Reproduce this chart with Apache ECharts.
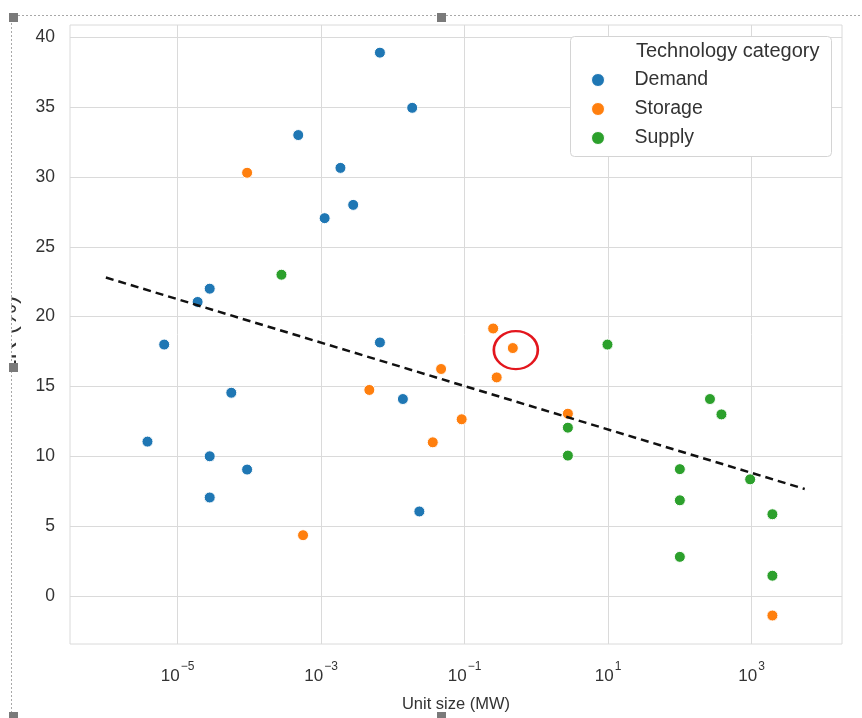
<!DOCTYPE html>
<html>
<head>
<meta charset="utf-8">
<script src="https://cdn.jsdelivr.net/npm/echarts@6/dist/echarts.min.js"></script>
<style>html,body{margin:0;padding:0;background:#fff}#c{width:862px;height:718px}</style>
</head>
<body>
<div id="c"></div>
<script>
// ---- data (unit size in MW, learning rate in %) ----
const seriesNames = ['Demand', 'Storage', 'Supply'];
const demandX = [0.0066, 0.0186, 0.00048, 0.00186, 0.0028, 0.00112, 0.000028, 0.000019, 0.0000065, 0.0066, 0.000056, 0.0138, 0.0000038, 0.000028, 0.000093, 0.000028, 0.0234];
const demandY = [38.9, 34.95, 33.0, 30.65, 28.0, 27.05, 22.0, 21.05, 18.0, 18.15, 14.55, 14.1, 11.05, 10.0, 9.05, 7.05, 6.05];
const storageX = [0.000093, 0.25, 0.47, 0.047, 0.28, 0.0047, 0.091, 0.036, 2.75, 0.00056, 1950];
const storageY = [30.3, 19.15, 17.75, 16.25, 15.65, 14.75, 12.65, 11.0, 13.05, 4.35, -1.4];
const supplyX = [0.00028, 9.8, 263, 380, 2.75, 2.75, 100, 100, 100, 955, 1950, 1950];
const supplyY = [23.0, 18.0, 14.1, 13.0, 12.05, 10.05, 9.08, 6.85, 2.8, 8.35, 5.85, 1.45];
const fitX = [1e-6, 5500];
const fitY = [22.8, 7.66];
const highlightIndex = 2; // storage point circled in red
const xTickValues = [1e-5, 1e-3, 1e-1, 1e1, 1e3];
const yTickValues = [0, 5, 10, 15, 20, 25, 30, 35, 40];

const FONT = '"Liberation Sans", Arial, sans-serif';
const TXT = '#333333';
const GRID = '#dadada';
const colors = ['#1f77b4', '#ff7f0e', '#2ca02c'];

function pairs(xs, ys) { return xs.map((x, i) => [x, ys[i]]); }

const chart = echarts.init(document.getElementById('c'), null, {renderer: 'canvas'});

function scatter(name, xs, ys, color, extra) {
  return Object.assign({
    name: name, type: 'scatter', data: pairs(xs, ys),
    symbol: 'circle', symbolSize: 11,
    itemStyle: {color: color, borderColor: '#ffffff', borderWidth: 1, opacity: 1},
    emphasis: {disabled: true}, z: 3
  }, extra || {});
}

function sq(x, y) {
  return {type: 'rect', shape: {x: x, y: y, width: 9, height: 9}, style: {fill: '#7a7a7a'}, z: 10, silent: true};
}

const option = {
  animation: false,
  backgroundColor: '#ffffff',
  textStyle: {fontFamily: FONT},
  grid: {left: 70, right: 20, top: 25, bottom: 74, show: true, borderColor: GRID, borderWidth: 1, backgroundColor: '#ffffff', containLabel: false, outerBoundsMode: 'none'},
  xAxis: {
    type: 'log', logBase: 10,
    min: 3.162e-7, max: 18200,
    name: 'Unit size (MW)', nameLocation: 'middle', nameGap: 52,
    nameTextStyle: {fontSize: 16.5, color: TXT, fontFamily: FONT},
    axisLine: {show: false},
    axisTick: {show: false, customValues: xTickValues},
    splitLine: {show: true, lineStyle: {color: GRID, width: 1}},
    minorTick: {show: false}, minorSplitLine: {show: false},
    axisLabel: {
      customValues: xTickValues, margin: 17,
      formatter: function (v) {
        const e = Math.round(Math.log10(v));
        return '{b|10}{s|' + (e < 0 ? '\u2212' + (-e) : e) + '}';
      },
      rich: {
        b: {fontSize: 17, color: TXT, fontFamily: FONT, verticalAlign: 'bottom'},
        s: {fontSize: 12, color: TXT, fontFamily: FONT, verticalAlign: 'bottom', padding: [0, 0, 12, 1]}
      }
    }
  },
  yAxis: {
    type: 'value', min: -3.44, max: 40.88,
    name: 'LR (%)', nameLocation: 'middle', nameGap: 48,
    nameTextStyle: {fontSize: 25, color: TXT, fontFamily: FONT},
    axisLine: {show: false},
    axisTick: {show: false, customValues: yTickValues},
    splitLine: {show: true, lineStyle: {color: GRID, width: 1}},
    axisLabel: {customValues: yTickValues, margin: 15, fontSize: 17.5, color: TXT, fontFamily: FONT}
  },
  legend: {
    data: seriesNames, orient: 'vertical', left: 591, top: 70, padding: 0,
    itemWidth: 13, itemHeight: 13, itemGap: 9, icon: 'circle',
    itemStyle: {borderColor: '#ffffff', borderWidth: 1, opacity: 1},
    textStyle: {fontSize: 19.5, color: TXT, fontFamily: FONT, lineHeight: 20, padding: [0, 0, 0, 25]},
    selectedMode: false, z: 6
  },
  graphic: [
    // area outside the cropped picture hides the left part of the y-axis title
    {type: 'rect', shape: {x: 0, y: 0, width: 11.5, height: 718}, style: {fill: '#ffffff'}, z: 8, silent: true},
    // selection frame of the pasted picture
    {type: 'line', shape: {x1: 14, y1: 15.5, x2: 862, y2: 15.5}, style: {stroke: '#a8a8a8', lineWidth: 1, lineDash: [2, 2]}, z: 9, silent: true},
    {type: 'line', shape: {x1: 11.5, y1: 15, x2: 11.5, y2: 718}, style: {stroke: '#a8a8a8', lineWidth: 1, lineDash: [2, 2]}, z: 9, silent: true},
    sq(9, 13), sq(437, 13), sq(9, 363), sq(9, 712), sq(437, 712),
    // legend frame and title
    {type: 'rect', shape: {x: 570.5, y: 36.5, width: 261, height: 120, r: 4}, style: {fill: '#ffffff', stroke: '#d4d4d4', lineWidth: 1}, z: 5, silent: true},
    {type: 'text', x: 636, y: 51, style: {text: 'Technology category', fontSize: 20, fontFamily: FONT, fill: TXT, verticalAlign: 'middle'}, z: 7, silent: true}
  ],
  series: [
    scatter(seriesNames[0], demandX, demandY, colors[0]),
    scatter(seriesNames[1], storageX, storageY, colors[1], {
      markPoint: {
        symbol: 'circle', symbolSize: [44, 38], symbolOffset: [3, 2],
        silent: true, animation: false,
        label: {show: false},
        itemStyle: {color: 'rgba(0,0,0,0)', borderColor: '#e3161d', borderWidth: 2.5},
        data: [{coord: [storageX[highlightIndex], storageY[highlightIndex]]}]
      }
    }),
    scatter(seriesNames[2], supplyX, supplyY, colors[2]),
    {
      name: 'fit', type: 'line', data: pairs(fitX, fitY), showSymbol: false, symbol: 'none',
      lineStyle: {color: '#111111', width: 2.5, type: [8, 5]}, z: 4, silent: true,
      emphasis: {disabled: true}
    }
  ]
};
chart.setOption(option);
</script>
</body>
</html>
